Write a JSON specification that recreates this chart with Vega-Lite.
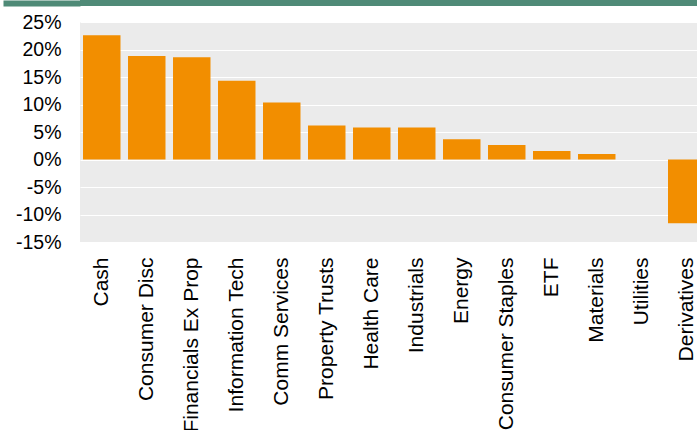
{
  "$schema": "https://vega.github.io/schema/vega-lite/v6.json",
  "padding": 0,
  "background": "white",
  "spacing": 6,
  "config": {"view": {"stroke": null}, "font": "Liberation Sans"},
  "vconcat": [
    {
      "width": 617,
      "height": 6,
      "view": {"fill": "#4F8A77", "stroke": null},
      "data": {"values": [{"v": 0.5}]},
      "mark": {"type": "point", "opacity": 0},
      "encoding": {
        "y": {
          "field": "v",
          "type": "quantitative",
          "scale": {"domain": [0, 1], "nice": false, "zero": false},
          "axis": {"title": null, "values": [0.5], "labels": false, "domain": false, "grid": false, "ticks": true, "tickSize": 77, "tickWidth": 6, "tickColor": "#4F8A77", "tickCap": "butt"}
        }
      }
    },
    {
      "width": 617,
      "height": 220,
      "view": {"fill": "#EBEBEB", "stroke": null},
      "data": {
        "values": [
          {"sector": "Cash", "value": 22.6},
          {"sector": "Consumer Disc", "value": 18.8},
          {"sector": "Financials Ex Prop", "value": 18.6},
          {"sector": "Information Tech", "value": 14.3},
          {"sector": "Comm Services", "value": 10.35},
          {"sector": "Property Trusts", "value": 6.2},
          {"sector": "Health Care", "value": 5.8},
          {"sector": "Industrials", "value": 5.8},
          {"sector": "Energy", "value": 3.7},
          {"sector": "Consumer Staples", "value": 2.65},
          {"sector": "ETF", "value": 1.55},
          {"sector": "Materials", "value": 1.0},
          {"sector": "Utilities", "value": 0},
          {"sector": "Derivatives", "value": -11.6}
        ]
      },
      "mark": {"type": "bar", "color": "#F28E00", "clip": true},
      "encoding": {
        "x": {
          "field": "sector",
          "type": "nominal",
          "sort": null,
          "scale": {"range": [0, 628.5], "paddingInner": 0.167, "paddingOuter": 0.067},
          "axis": {"title": null, "labelAngle": 270, "labelFontSize": 21, "labelPadding": 15, "ticks": false, "domain": false, "labelColor": "black", "labelLimit": 300}
        },
        "y": {
          "field": "value",
          "type": "quantitative",
          "scale": {"domain": [-15, 25], "nice": false, "zero": false},
          "axis": {"title": null, "values": [-15, -10, -5, 0, 5, 10, 15, 20, 25], "labelExpr": "datum.value + '%'", "grid": true, "gridColor": "white", "gridWidth": 1, "domain": false, "ticks": false, "labelFontSize": 19.5, "labelPadding": 19, "labelColor": "black"}
        }
      }
    }
  ]
}
